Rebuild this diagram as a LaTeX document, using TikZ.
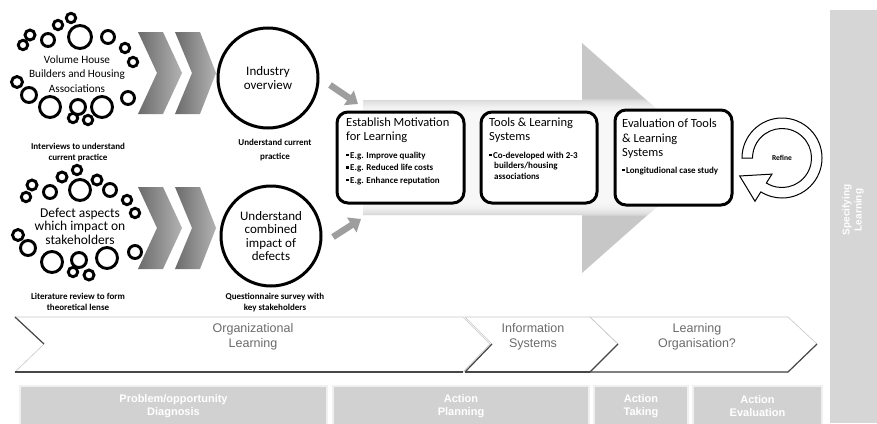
\documentclass[tikz,border=0pt]{standalone}
\usepackage{fontspec}
\setmainfont{Carlito}
\newfontfamily\arialf{Liberation Sans}
\usetikzlibrary{calc,arrows.meta}
\newcommand\sqb{\rule[0.45ex]{2.5pt}{2.5pt}\,}
\begin{document}
\begin{tikzpicture}[x=1pt,y=-1pt,
  ring/.style={line width=2.9pt},
  chev/.style={left color=black!58,right color=black!30,draw=none},
  bigcirc/.style={circle,draw,line width=3pt,minimum size=100pt,inner sep=0pt,align=center,
    font=\fontsize{13}{13.5}\selectfont},
  cluster/.style={align=center},
  box/.style={draw,rounded corners=11pt,line width=3pt,fill=white,minimum width=127pt,minimum height=91pt},
  boxtitle/.style={anchor=north west,align=left,inner sep=0pt,font=\fontsize{12.5}{14}\selectfont},
  boxlist/.style={anchor=north west,align=left,inner sep=0pt,font=\fontsize{9}{12.5}\bfseries\selectfont},
  captext/.style={font=\fontsize{9}{11}\bfseries\selectfont,align=center},
  garrow/.style={line width=6.5pt,draw=black!38,-{Triangle[length=11pt,width=17pt]}},
  band/.style={fill=white,draw=black!22,line width=0.6pt},
  bandedge/.style={draw=black!72,line width=1.2pt},
  bandtext/.style={font=\arialf\fontsize{12.5}{15}\selectfont,text=black!58,align=center},
  phase/.style={fill=black!18,draw=black!6,line width=2pt},
  phasetext/.style={font=\arialf\bfseries\fontsize{11}{13}\selectfont,text=white,align=center}]
\useasboundingbox (0,0) rectangle (877,423);
\fill[white] (0,0) rectangle (877,423);

% right-hand column
\fill[black!16] (830,10) rectangle (877,423);
\node[rotate=90,font=\arialf\bfseries\fontsize{10}{12}\selectfont,text=white,align=center]
  (spec) at (853,210) {Specifying\\Learning};

% large process arrow with a soft white glow behind the stage boxes
\begin{scope}
  \clip (363,100) -- (582,100) -- (582,43) -- (712,158) -- (582,273) -- (582,215) -- (363,215) -- cycle;
  \fill[black!22] (363,43) rectangle (712,273);
  \foreach \g in {0,...,11}
    \fill[white,opacity=0.18,rounded corners=14pt]
      (337-1.2*\g,112-1.2*\g) rectangle (735+1.2*\g,203+1.2*\g);
\end{scope}

% first source cluster
\foreach \cx/\cy/\r in {71/18/4.7,58/25/4.7,80/37/11.5,48/40/6.5,30/35/5,23/45/4.7,108/37/6.5,125/48/4.7,
  133/62/4.7,17/82/5.5,29/95/7.5,50/107/10.5,78/107/7.5,73/118/4.7,88/120/4.7,102/107/10.5,128/98/6.5}
  \draw[ring] (\cx,\cy) circle[radius=\r pt];
\node[cluster,font=\fontsize{11.2}{14.5}\selectfont] (vhb) at (77,74)
  {Volume House\\Builders and Housing\\Associations};
\node[captext] (cap1) at (78,152.5) {Interviews to understand\\current practice};

% second source cluster
\foreach \cx/\cy/\r in {77/170/4.7,62/177/5,50/192/6.5,32/185/5,26/197/4.7,80/190/10.5,97/180/5,
  110/190/6.5,127/200/4.7,135/213/4.7,18/235/5.5,28/248/7.5,52/262/10.5,79/260/7.5,73/272/4.7,89/275/5,
  107/258/10.5,135/252/6.5}
  \draw[ring] (\cx,\cy) circle[radius=\r pt];
\node[cluster,font=\fontsize{13.5}{13.5}\selectfont] (dfa) at (80,226)
  {Defect aspects\\which impact on\\stakeholders};
\node[captext] (cap3) at (78,302) {Literature review to form\\theoretical lense};

% chevrons
\foreach \y in {0,155}{
  \shade[chev] (138,32+\y) -- (163,32+\y) -- (182,73+\y) -- (163,114+\y) -- (138,114+\y) -- (157,73+\y) -- cycle;
  \shade[chev] (175,32+\y) -- (200,32+\y) -- (216,73+\y) -- (200,114+\y) -- (175,114+\y) -- (192,73+\y) -- cycle;
}

% outcome circles
\node[bigcirc] (ind) at (268,78) {Industry\\overview};
\node[captext] (cap2) at (275,150) {Understand current\\[3pt]practice};
\node[bigcirc] (cmb) at (271,236) {Understand\\combined\\impact of\\defects};
\node[captext] (cap4) at (275,303) {Questionnaire survey with\\key stakeholders};

% short feed arrows
\coordinate (f1s) at (330,85);
\coordinate (f1e) at (358,104);
\coordinate (f2s) at (333,237);
\coordinate (f2e) at (361,219);
\draw[garrow] (f1s) -- (f1e);
\draw[garrow] (f2s) -- (f2e);

% stage boxes
\node[box] (mot) at (400.5,157.5) {};
\node[boxtitle] (motT) at (346,118) {Establish Motivation\\for Learning};
\node[boxlist] (motL) at (346,151.5) {\sqb E.g. Improve quality\\\sqb E.g. Reduced life costs\\\sqb E.g. Enhance reputation};

\node[box,minimum width=116pt] (tls) at (539,157.5) {};
\node[boxtitle] (tlsT) at (489,118) {Tools \& Learning\\Systems};
\node[boxlist,font=\fontsize{9}{10.5}\bfseries\selectfont] (tlsL) at (489,151.5)
  {\sqb Co-developed with 2-3\\\hspace*{5pt}builders/housing\\\hspace*{5pt}associations};

\node[box,minimum width=117pt,minimum height=95pt] (evl) at (673.5,157.5) {};
\node[boxtitle,font=\fontsize{12.5}{14.2}\selectfont] (evlT) at (622,119) {Evaluation of Tools\\\& Learning\\Systems};
\node[boxlist] (evlL) at (622,166.5) {\sqb Longitudional case study};

% refine cycle
\coordinate (rc) at (782,158);
\filldraw[fill=white,draw=black,line width=1pt]
  ($(rc)+(180:40)$) arc[start angle=180,end angle=482,radius=40]
  -- ($(rc)+(122:51)$) -- ($(rc)+(157:46)$) -- ($(rc)+(122:19)$) -- ($(rc)+(122:29.5)$)
  arc[start angle=482,end angle=180,radius=29.5] -- cycle;
\node[font=\fontsize{7.5}{9}\bfseries\selectfont] (ref) at (rc) {Refine};

% theme band
\path[band] (15,317) -- (463,317) -- (490,344) -- (463,372) -- (15,372) -- (44,344) -- cycle;
\path[band] (465,317) -- (590,317) -- (618,344) -- (590,372) -- (465,372) -- (492,344) -- cycle;
\path[band] (590,317) -- (788,317) -- (817,344) -- (788,372) -- (590,372) -- (618,344) -- cycle;
\draw[bandedge] (15,317) -- (44,344);
\draw[bandedge] (15,372) -- (463,372);
\draw[bandedge] (465,372) -- (492,344);
\draw[bandedge] (465,372) -- (590,372);
\draw[bandedge] (590,372) -- (618,344);
\draw[bandedge] (590,372) -- (788,372) -- (817,344);
\node[bandtext] (olr) at (253,337) {Organizational\\Learning};
\node[bandtext] (isy) at (533,337) {Information\\Systems};
\node[bandtext] (lor) at (697,337) {Learning\\Organisation?};

% action research phases
\path[phase] (20,386) rectangle (327,426);
\path[phase] (333,386) rectangle (589,426);
\path[phase] (594,386) rectangle (688,426);
\path[phase] (693,386) rectangle (822,426);
\node[phasetext] (pd) at (173.5,406) {Problem/opportunity\\Diagnosis};
\node[phasetext] (ap) at (461,406) {Action\\Planning};
\node[phasetext] (at) at (641,406) {Action\\Taking};
\node[phasetext] (ae) at (757.5,406) {Action\\Evaluation};
\end{tikzpicture}
\end{document}
